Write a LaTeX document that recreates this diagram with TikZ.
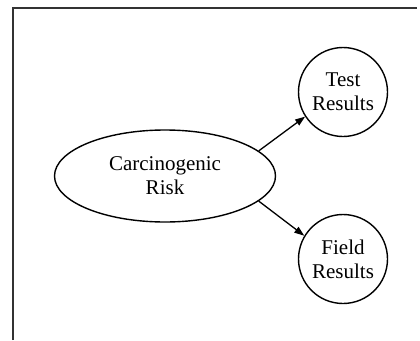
\documentclass[tikz,border=0pt]{standalone}
\usepackage{fontspec}
\setmainfont{Liberation Serif}
\usetikzlibrary{shapes.geometric,arrows.meta}
\begin{document}
\begin{tikzpicture}[x=1pt,y=-1pt,
  every node/.style={font=\fontsize{21}{24}\selectfont, align=center, inner sep=0pt},
  oval/.style={draw, line width=1.4pt, ellipse, minimum width=221pt, minimum height=92pt},
  outcome/.style={draw, line width=1.4pt, circle, minimum size=89pt},
  link/.style={line width=1.3pt, -{Triangle[length=10pt,width=7pt]}},
  frame/.style={line width=1.6pt, draw=black!80}]
  \useasboundingbox (0,0) rectangle (420,340);
  % open frame: left and top edges
  \draw[frame] (13,340) -- (13,8) -- (417,8);
  \node[oval] (risk) at (165,176) {Carcinogenic\\Risk};
  \node[outcome] (test) at (343,92) {Test\\Results};
  \node[outcome] (field) at (343,259) {Field\\Results};
  \draw[link] (risk.15) -- (test.213);
  \draw[link] (risk.-15) -- (field.149);
\end{tikzpicture}
\end{document}
